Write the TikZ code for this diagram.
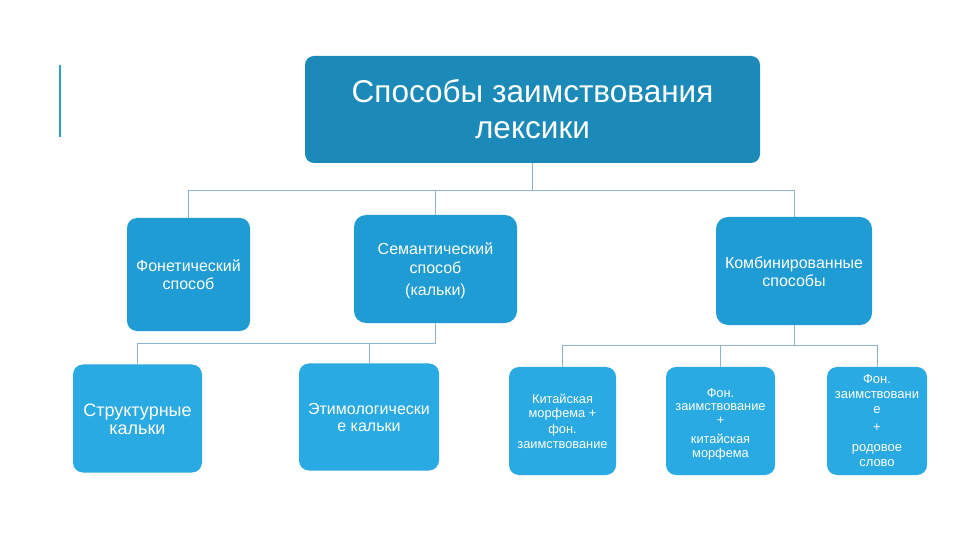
\documentclass[tikz,border=0pt]{standalone}
\usepackage{fontspec}
\setmainfont{Liberation Sans}
\definecolor{topc}{HTML}{1B8AB8}
\definecolor{midc}{HTML}{1E9CD3}
\definecolor{botc}{HTML}{2AAAE2}
\definecolor{linec}{HTML}{8DB3CF}
\definecolor{accent}{HTML}{2BA3C0}
\begin{document}
\begin{tikzpicture}[x=1bp,y=-1bp,
  box/.style={draw=none,text=white,align=center,inner sep=0pt,rounded corners=10bp},
  conn/.style={draw=linec,line width=0.9bp}]
\useasboundingbox (0,0) rectangle (960,540);
\fill[white] (0,0) rectangle (960,540);
\draw[accent,line width=2bp] (60,65) -- (60,137);
% top
\node[box,fill=topc,rounded corners=9bp,minimum width=455bp,minimum height=107bp,
  font=\fontsize{31.5bp}{36bp}\selectfont] (top) at (532.5,109.5) {Способы заимствования\\лексики};
% middle row
\node[box,fill=midc,minimum width=123bp,minimum height=113bp,
  font=\fontsize{16bp}{18bp}\selectfont] (fon) at (188.5,274.5) {\rule{0pt}{13bp}Фонетический\\способ};
\node[box,fill=midc,rounded corners=12bp,minimum width=163bp,minimum height=108bp,
  font=\fontsize{16bp}{19bp}\selectfont] (sem) at (435.5,269) {\rule{0pt}{16bp}Семантический\\способ\\[3bp](кальки)};
\node[box,fill=midc,rounded corners=12bp,minimum width=156bp,minimum height=108bp,
  font=\fontsize{16bp}{18bp}\selectfont] (kom) at (794,271) {\rule{0pt}{14bp}Комбинированные\\способы};
% bottom row
\node[box,fill=botc,minimum width=129bp,minimum height=108bp,
  font=\fontsize{18bp}{18bp}\selectfont] (str) at (137.5,418.5) {\rule{0pt}{15bp}Структурные\\кальки};
\node[box,fill=botc,minimum width=140bp,minimum height=107bp,
  font=\fontsize{16bp}{17bp}\selectfont] (eti) at (369,417) {Этимологически\\е кальки};
\node[box,fill=botc,minimum width=107bp,minimum height=108bp,
  font=\fontsize{12.8bp}{14.5bp}\selectfont] (kit) at (562.5,421) {Китайская\\морфема +\\[1.5bp]фон.\\заимствование};
\node[box,fill=botc,minimum width=109bp,minimum height=108bp,
  font=\fontsize{12.8bp}{13.5bp}\selectfont] (fz1) at (720.5,421) {\rule{0pt}{15bp}Фон.\\заимствование\\+\\[6bp]китайская\\морфема};
\node[box,fill=botc,minimum width=100bp,minimum height=108bp,
  font=\fontsize{13bp}{15bp}\selectfont] (fz2) at (877,421) {Фон.\\заимствовани\\е\\[3bp]+\\[5bp]родовое\\слово};
% connectors
\draw[conn] (top.south) -- ++(0,27) -| (fon.north);
\draw[conn] (top.south) -- ++(0,27) -| (sem.north);
\draw[conn] (top.south) -- ++(0,27) -| (kom.north);
\draw[conn] (sem.south) -- ++(0,20) -| (str.north);
\draw[conn] (sem.south) -- ++(0,20) -| (eti.north);
\draw[conn] (kom.south) -- ++(0,20) -| (kit.north);
\draw[conn] (kom.south) -- ++(0,20) -| (fz1.north);
\draw[conn] (kom.south) -- ++(0,20) -| (fz2.north);
\end{tikzpicture}
\end{document}
